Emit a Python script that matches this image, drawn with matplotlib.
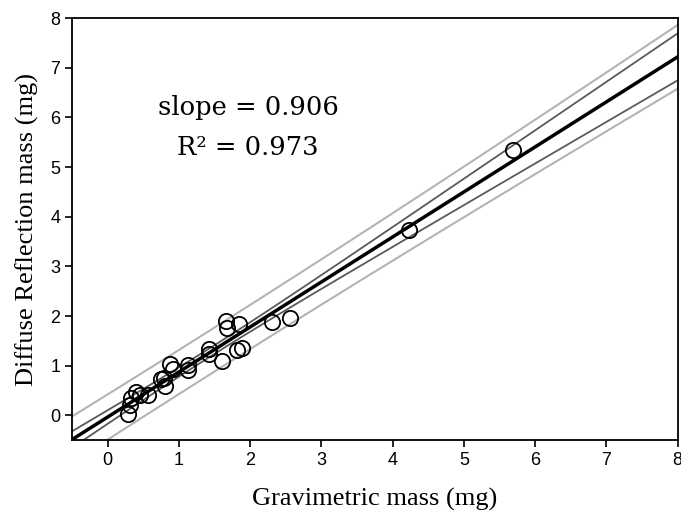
import numpy as np
import matplotlib
matplotlib.use("Agg")
from matplotlib import pyplot as plt

# gravimetric (x) vs diffuse reflection (y) masses, mg
grav = [0.29, 0.31, 0.33, 0.40, 0.45, 0.57, 0.74, 0.79, 0.81, 0.87, 0.92,
        1.13, 1.13, 1.42, 1.42, 1.61, 1.66, 1.67, 1.84, 1.82, 1.88, 2.31,
        2.56, 4.23, 5.69]
diff = [0.02, 0.21, 0.34, 0.47, 0.40, 0.41, 0.74, 0.75, 0.59, 1.04, 0.94,
        1.01, 0.91, 1.34, 1.24, 1.09, 1.89, 1.76, 1.84, 1.31, 1.36, 1.88,
        1.96, 3.73, 5.35]
ticks = [0, 1, 2, 3, 4, 5, 6, 7, 8]
slope_txt = "slope = 0.906"
r2_txt = "R\u00b2 = 0.973"

x = np.array(grav)
y = np.array(diff)
n = len(x)
b1, b0 = np.polyfit(x, y, 1)
res = y - (b1*x + b0)
s = np.sqrt(np.sum(res**2)/(n-2))
xm = x.mean()
sxx = np.sum((x-xm)**2)
t = 2.069  # t(0.975, 23)

xx = np.linspace(-0.5, 8, 200)
yy = b1*xx + b0
ci = t*s*np.sqrt(1.0/n + (xx-xm)**2/sxx)
pi = t*s*np.sqrt(1 + 1.0/n + (xx-xm)**2/sxx)

fig = plt.figure(figsize=(6.81, 5.16), dpi=100)
ax = fig.add_axes([0.106, 0.147, 0.889, 0.818])

ax.plot(xx, yy+pi, color='#b4b4b4', lw=1.5)
ax.plot(xx, yy-pi, color='#b4b4b4', lw=1.5)
ax.plot(xx, yy+ci, color='#5a5a5a', lw=1.3)
ax.plot(xx, yy-ci, color='#5a5a5a', lw=1.3)
ax.plot(xx, yy, color='black', lw=2.5)
ax.plot(x, y, 'o', mfc='none', mec='black', ms=11, mew=1.3)

ax.set_xlim(-0.5, 8)
ax.set_ylim(-0.5, 8)
ax.set_xticks(ticks)
ax.set_yticks(ticks)
ax.tick_params(direction='out', length=5, width=1.2, labelsize=13,
               top=False, right=False)
for sp in ax.spines.values():
    sp.set_linewidth(1.3)
for lab in ax.get_xticklabels() + ax.get_yticklabels():
    lab.set_family('Liberation Sans')

ax.set_xlabel("Gravimetric mass (mg)", family='Liberation Serif',
              fontsize=19, labelpad=14)
ax.set_ylabel("Diffuse Reflection mass (mg)", family='Liberation Serif',
              fontsize=19, labelpad=8)

ax.text(1.97, 6.19, slope_txt, family='DejaVu Serif', fontsize=18.5,
        ha='center', va='center')
ax.text(1.97, 5.39, r2_txt, family='DejaVu Serif', fontsize=18.5,
        ha='center', va='center')

fig.savefig("out.png", dpi=100)
